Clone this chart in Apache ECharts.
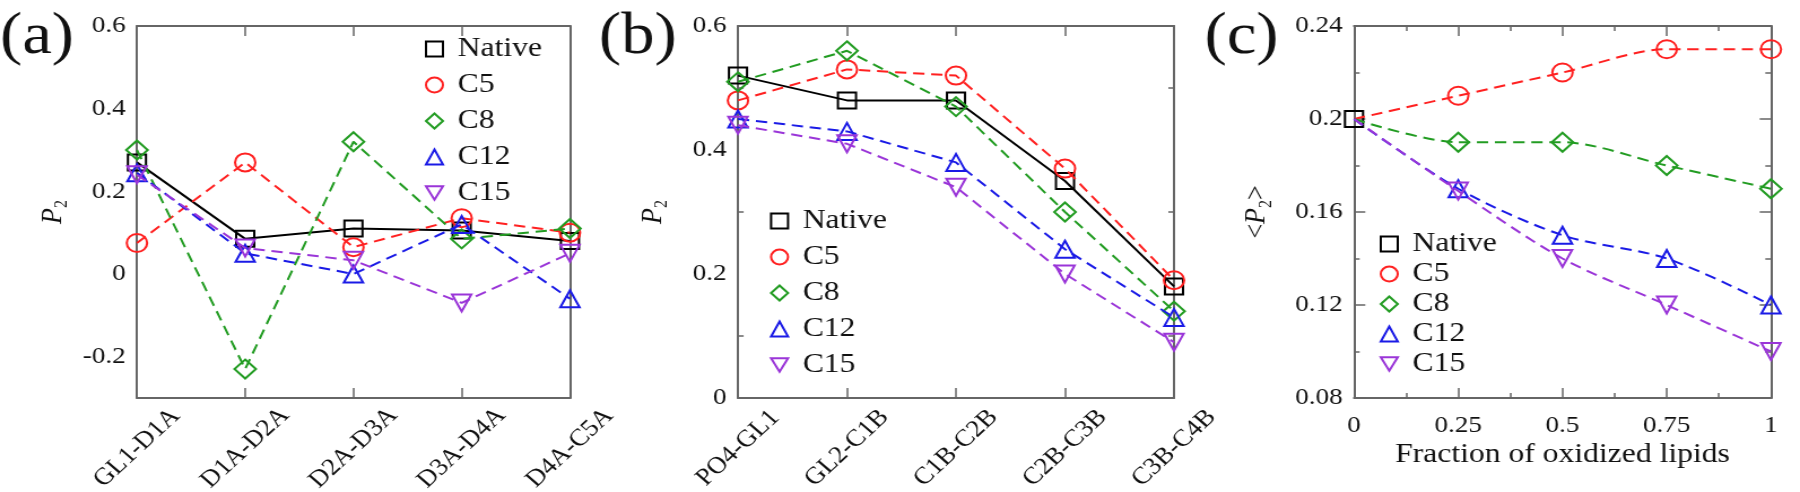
<!DOCTYPE html>
<html>
<head>
<meta charset="utf-8">
<title>P2 order parameters</title>
<script src="https://cdn.jsdelivr.net/npm/echarts@6.0.0/dist/echarts.min.js"></script>
<style>
  html, body { margin: 0; padding: 0; background: #fff; overflow: hidden; }
  /* the source figure is a little wider than tall, so draw narrower and stretch */
  #chart { width: 1593px; height: 492px; transform: scaleX(1.12994); transform-origin: 0 0; }
</style>
</head>
<body>
<div id="chart"></div>
<script>
// (a) sn-1 chain bonds
const catsA = ['GL1-D1A', 'D1A-D2A', 'D2A-D3A', 'D3A-D4A', 'D4A-C5A'];
const nativeA = [0.27, 0.085, 0.11, 0.105, 0.08];
const c5A = [0.075, 0.27, 0.065, 0.135, 0.10];
const c8A = [0.30, -0.23, 0.32, 0.085, 0.11];
const c12A = [0.245, 0.05, 0.0, 0.12, -0.06];
const c15A = [0.24, 0.063, 0.033, -0.07, 0.05];

// (b) sn-2 chain bonds
const catsB = ['PO4-GL1', 'GL2-C1B', 'C1B-C2B', 'C2B-C3B', 'C3B-C4B'];
const nativeB = [0.52, 0.48, 0.48, 0.35, 0.18];
const c5B = [0.48, 0.53, 0.52, 0.37, 0.19];
const c8B = [0.51, 0.56, 0.47, 0.30, 0.14];
const c12B = [0.45, 0.43, 0.38, 0.24, 0.13];
const c15B = [0.44, 0.41, 0.34, 0.20, 0.09];

// (c) average vs fraction of oxidized lipids
const fracC = [0, 0.25, 0.5, 0.75, 1];
const nativeC = [0.2];
const c5C = [0.2, 0.21, 0.22, 0.23, 0.23];
const c8C = [0.2, 0.19, 0.19, 0.18, 0.17];
const c12C = [0.2, 0.17, 0.15, 0.14, 0.12];
const c15C = [0.2, 0.169, 0.14, 0.12, 0.10];

const names = ['Native', 'C5', 'C8', 'C12', 'C15'];

// styles
const colors = ['#000000', '#ff2020', '#229c22', '#1a1ae6', '#9a35d8'];
const symbols = ['rect', 'circle', 'diamond', 'triangle', 'triangle'];
const symSizes = [16, 18, 19, 17, 17];
const symRotates = [0, 0, 0, 0, 180];
const legendIcons = ['rect', 'circle', 'diamond', 'triangle', 'path://M0,0L10,0L5,9Z'];
const fontFamily = '"Liberation Serif", "Times New Roman", serif';
const textColor = '#111';
const axisColor = '#666';

const chart = echarts.init(document.getElementById('chart'));

const axisLine = { show: true, onZero: false, lineStyle: { color: axisColor, width: 2 } };
const tickLine = { color: axisColor, width: 1.5 };
const nameRich = {
    n: { fontSize: 26, fontFamily: fontFamily, color: textColor, lineHeight: 32 },
    i: { fontSize: 26, fontStyle: 'italic', fontFamily: fontFamily, color: textColor, lineHeight: 32 },
    s: { fontSize: 16, fontFamily: fontFamily, color: textColor, lineHeight: 16, verticalAlign: 'bottom' }
};

function catX(gi, cats) {
    const common = {
        type: 'category', gridIndex: gi, data: cats, boundaryGap: false,
        axisLine: axisLine, splitLine: { show: false },
        axisTick: { inside: true, length: 10, alignWithLabel: true, interval: 0, lineStyle: tickLine }
    };
    return [
        Object.assign({}, common, {
            position: 'bottom',
            axisLabel: {
                interval: 0, rotate: 46, align: 'center', verticalAlign: 'middle', margin: 50,
                fontSize: 24, fontFamily: fontFamily, color: textColor
            }
        }),
        Object.assign({}, common, { position: 'top', axisLabel: { show: false } })
    ];
}

function valAxes(kind, gi, cfg) {
    const common = {
        type: 'value', gridIndex: gi, min: cfg.min, max: cfg.max, interval: cfg.interval,
        axisLine: axisLine, splitLine: { show: false },
        axisTick: { inside: true, length: cfg.tick || 10, lineStyle: tickLine },
        minorTick: { show: !!cfg.minor, splitNumber: cfg.minor || 2, length: 5, lineStyle: tickLine }
    };
    const first = Object.assign({}, common, {
        position: kind === 'x' ? 'bottom' : 'left',
        axisLabel: {
            margin: kind === 'x' ? 16 : 10, fontSize: 24, fontFamily: fontFamily, color: textColor,
            formatter: cfg.formatter
        }
    });
    if (cfg.name) {
        Object.assign(first, {
            name: cfg.name, nameLocation: 'middle', nameGap: cfg.nameGap, nameMoveOverlap: false,
            nameTextStyle: cfg.nameStyle
        });
    }
    const second = Object.assign({}, common, {
        position: kind === 'x' ? 'top' : 'right', axisLabel: { show: false }
    });
    return [first, second];
}

function mkSeries(i, axis, data, smooth) {
    return {
        name: names[i], type: 'line', xAxisIndex: axis, yAxisIndex: axis,
        data: data, smooth: smooth || false,
        symbol: symbols[i], symbolSize: symSizes[i], symbolRotate: symRotates[i],
        itemStyle: { color: 'rgba(0,0,0,0)', borderColor: colors[i], borderWidth: 2 },
        lineStyle: { color: colors[i], width: 2, type: i === 0 ? 'solid' : [10, 6] },
        emphasis: { disabled: true },
        z: 2 + i
    };
}

function pairs(xs, ys, hideFirst) {
    return ys.map(function (y, j) {
        return (hideFirst && j === 0) ? { value: [xs[j], y], symbol: 'none' } : [xs[j], y];
    });
}

function mkLegend(left, top, gap) {
    return {
        orient: 'vertical', left: left, top: top, padding: 0, itemGap: gap,
        itemWidth: 15, itemHeight: 15, selectedMode: false,
        textStyle: { fontSize: 28, fontFamily: fontFamily, color: textColor, lineHeight: 26, padding: [0, 0, 0, 8] },
        data: names.map(function (n, i) {
            return {
                name: n, icon: legendIcons[i],
                itemStyle: { color: 'rgba(0,0,0,0)', borderColor: colors[i], borderWidth: 2 }
            };
        })
    };
}

const fmtA = function (v) {
    const t = Math.round(v * 10);
    return t % 2 === 0 ? String(t / 10) : '';
};

const xA = catX(0, catsA);
const xB = catX(1, catsB);
const xC = valAxes('x', 2, {
    min: 0, max: 1, interval: 0.25, minor: 2,
    name: 'Fraction of oxidized lipids', nameGap: 43,
    nameStyle: { fontSize: 28, fontFamily: fontFamily, color: textColor }
});
const yA = valAxes('y', 0, {
    min: -0.3, max: 0.6, interval: 0.1, tick: 8, formatter: fmtA,
    name: '{i|P}{s|2}', nameGap: 58, nameStyle: { rich: nameRich }
});
const yB = valAxes('y', 1, {
    min: 0, max: 0.6, interval: 0.2, minor: 2,
    name: '{i|P}{s|2}', nameGap: 59, nameStyle: { rich: nameRich }
});
const yC = valAxes('y', 2, {
    min: 0.08, max: 0.24, interval: 0.04, minor: 2,
    name: '{n|<}{i|P}{s|2}{n|>}', nameGap: 70, nameStyle: { rich: nameRich }
});

const labelFont = '59px ' + fontFamily;

chart.setOption({
    animation: false,
    backgroundColor: '#fff',
    grid: [
        { left: 121.2, top: 26, width: 383.2, height: 372, containLabel: false, outerBoundsMode: 'none' },
        { left: 653.1, top: 26, width: 385.9, height: 372, containLabel: false, outerBoundsMode: 'none' },
        { left: 1198.3, top: 26, width: 369, height: 372, containLabel: false, outerBoundsMode: 'none' }
    ],
    xAxis: xA.concat(xB, xC),
    yAxis: yA.concat(yB, yC),
    legend: [mkLegend(376, 35, 8), mkLegend(681.4, 207, 8), mkLegend(1221, 230, 2)],
    graphic: [
        { type: 'text', left: 0, top: 8, style: { text: '(a)', font: labelFont, fill: textColor } },
        { type: 'text', left: 530, top: 8, style: { text: '(b)', font: labelFont, fill: textColor } },
        { type: 'text', left: 1066, top: 8, style: { text: '(c)', font: labelFont, fill: textColor } }
    ],
    series: [
        mkSeries(0, 0, nativeA), mkSeries(1, 0, c5A), mkSeries(2, 0, c8A),
        mkSeries(3, 0, c12A), mkSeries(4, 0, c15A),
        mkSeries(0, 2, nativeB), mkSeries(1, 2, c5B), mkSeries(2, 2, c8B),
        mkSeries(3, 2, c12B), mkSeries(4, 2, c15B),
        mkSeries(0, 4, pairs(fracC, nativeC)),
        mkSeries(1, 4, pairs(fracC, c5C, true), 0.3),
        mkSeries(2, 4, pairs(fracC, c8C, true), 0.3),
        mkSeries(3, 4, pairs(fracC, c12C, true), 0.3),
        mkSeries(4, 4, pairs(fracC, c15C, true), 0.3)
    ]
});
</script>
</body>
</html>
